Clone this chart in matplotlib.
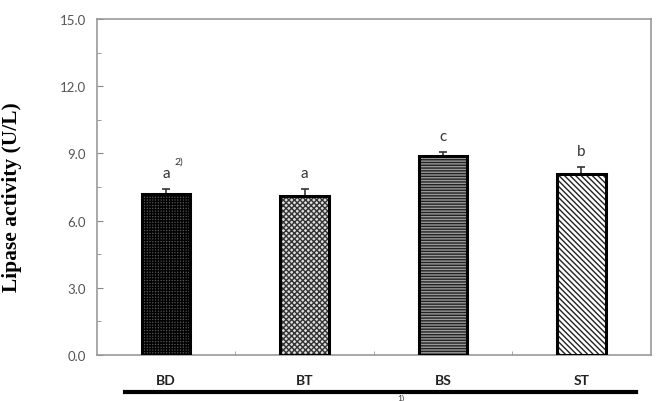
import numpy as np
import matplotlib
matplotlib.use("Agg")
import matplotlib.pyplot as plt
from matplotlib.lines import Line2D
from matplotlib.ticker import MultipleLocator

plt.rcParams["font.family"] = ["Lato", "DejaVu Sans"]
plt.rcParams["hatch.linewidth"] = 1.0

# data
groups = ["BD", "BT", "BS", "ST"]
lipase = [7.2, 7.1, 8.9, 8.1]
lipase_err = [0.22, 0.3, 0.15, 0.3]
letters = ["a", "a", "c", "b"]

# bar styling
faces = ["#555555", "#dddddd", "#9a9a9a", "white"]
hatches = ["++++++", "xxxxxx", "------", "\\\\\\\\\\\\"]
hatch_cols = ["#000000", "#333333", "#222222", "#222222"]

fig = plt.figure(figsize=(6.64, 4.02), dpi=100)
ax = fig.add_axes([0.146, 0.1144, 0.834, 0.836])

x = np.arange(len(groups))
width = 0.35

# hatched fill, then black outline on top
ax.bar(x, lipase, width, color=faces, edgecolor=hatch_cols, hatch=hatches, linewidth=0, zorder=2)
ax.bar(x, lipase, width, fill=False, edgecolor="black", linewidth=2.2, zorder=3)
ax.errorbar(x, lipase, yerr=[np.zeros(len(x)), lipase_err], fmt="none",
            ecolor="#333333", elinewidth=1.2, capsize=3, capthick=1.2, zorder=1)

for xi, v, e, lab in zip(x, lipase, lipase_err, letters):
    ax.text(xi, v + e + 0.4, lab, ha="center", va="bottom", fontsize=11, color="#333333")
ax.text(x[0] + 0.06, lipase[0] + lipase_err[0] + 1.05, "2)", ha="left", va="bottom",
        fontsize=7.5, color="#333333")

ax.set_xlim(-0.5, 3.5)
ax.set_ylim(0, 15)
ax.yaxis.set_major_locator(MultipleLocator(3))
ax.yaxis.set_minor_locator(MultipleLocator(1.5))
ax.set_yticks(np.arange(0, 15.1, 3))
ax.set_yticklabels([f"{v:.1f}" for v in np.arange(0, 15.1, 3)])
ax.tick_params(axis="y", which="both", direction="in", colors="#888888",
               labelcolor="#555555", labelsize=9.5, pad=8)
ax.tick_params(axis="y", which="major", length=4)
ax.tick_params(axis="y", which="minor", length=3)

ax.set_xticks(x)
ax.set_xticklabels(groups, fontweight="bold", fontsize=10, color="#222222")
ax.set_xticks([0.5, 1.5, 2.5], minor=True)
ax.tick_params(axis="x", which="major", length=0, pad=14)
ax.tick_params(axis="x", which="minor", direction="in", length=3, colors="#999999")

for s in ax.spines.values():
    s.set_color("#999999")
    s.set_linewidth(1.2)

fig.text(0.018, 0.51, "Lipase activity (U/L)", rotation=90, ha="center", va="center",
         fontsize=15.5, fontweight="bold", family="Liberation Serif")

# thick rule under the group labels
fig.add_artist(Line2D([125 / 664, 636 / 664], [1 - 393 / 402, 1 - 393 / 402],
                      color="black", linewidth=3))
fig.text(397 / 664, 0.0, "1)", ha="left", va="bottom", fontsize=6, color="#333333")

fig.savefig("out.png", dpi=100)
